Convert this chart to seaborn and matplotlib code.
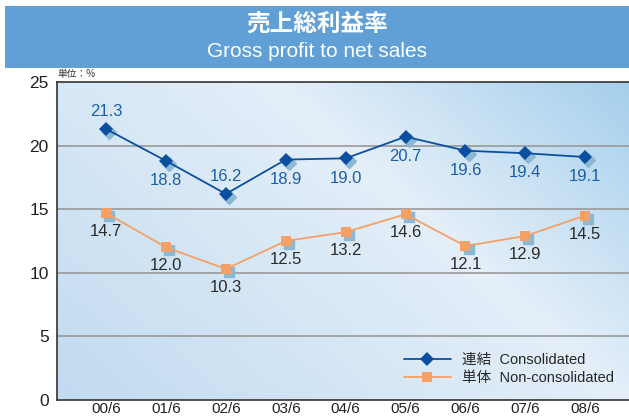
import numpy as np
import pandas as pd
import matplotlib
matplotlib.use("Agg")
import matplotlib.pyplot as plt
import matplotlib.transforms as mtransforms
from matplotlib.colors import LinearSegmentedColormap
import seaborn as sns

periods = ["00/6", "01/6", "02/6", "03/6", "04/6", "05/6", "06/6", "07/6", "08/6"]
consolidated = [21.3, 18.8, 16.2, 18.9, 19.0, 20.7, 19.6, 19.4, 19.1]
non_consolidated = [14.7, 12.0, 10.3, 12.5, 13.2, 14.6, 12.1, 12.9, 14.5]
cons_label_above = [True, False, True, False, False, False, False, False, False]
yticks = [0, 5, 10, 15, 20, 25]

sns.set_style("white")
plt.rcParams['font.family'] = ['Liberation Sans', 'Noto Sans CJK JP', 'DejaVu Sans']

fig = plt.figure(figsize=(6.29, 4.19), dpi=100)

# Title banner
W, H = 629.0, 419.0
bax = fig.add_axes([5 / W, 1 - 68 / H, 1 - 5 / W, 62 / H])
bax.set_facecolor("#60A0D6")
bax.set_xticks([]); bax.set_yticks([])
for s in bax.spines.values():
    s.set_visible(False)
bax.text(0.5, 0.72, "売上総利益率", color="white", fontsize=17, ha="center", va="center",
         transform=bax.transAxes, family=['Noto Sans CJK JP'], fontweight="bold")
bax.text(0.5, 0.27, "Gross profit to net sales", color="white", fontsize=15, ha="center",
         va="center", transform=bax.transAxes)

ax = fig.add_axes([57 / W, 19 / H, 572 / W, 318 / H])
df = pd.DataFrame({"period": np.arange(len(periods)), "cons": consolidated, "non": non_consolidated})

ax.set_xlim(-0.82, 8.73)
ax.set_ylim(0, 25)

# gradient background
nx, ny = 200, 100
xx, yy = np.meshgrid(np.linspace(0, 1, nx), np.linspace(0, 1, ny))
t = 0.62 * xx + 0.38 * yy
cmap = LinearSegmentedColormap.from_list("bg", [(0, "#C2DBF0"), (0.62, "#E4EFF9"), (1.0, "#A6CFEC")])
ax.imshow(t, cmap=cmap, extent=[-0.82, 8.73, 0, 25], origin="lower", aspect="auto", zorder=0, vmin=0, vmax=1)

for y in yticks[1:-1]:
    ax.axhline(y, color="#999999", lw=1.2, zorder=1)

shadow = mtransforms.offset_copy(ax.transData, fig=fig, x=2.2, y=-2.2, units="points")
ax.plot(df["period"], df["cons"], ls="none", marker="D", ms=7, color="#8DB8D2", transform=shadow, zorder=2)
ax.plot(df["period"], df["non"], ls="none", marker="s", ms=7, color="#8DB8D2", transform=shadow, zorder=2)

sns.lineplot(data=df, x="period", y="cons", ax=ax, color="#0B50A0", lw=1.3, marker="D",
             markersize=7, markeredgewidth=0, label="連結  Consolidated", zorder=3)
sns.lineplot(data=df, x="period", y="non", ax=ax, color="#F5A067", lw=1.3, marker="s",
             markersize=7, markeredgewidth=0, label="単体  Non-consolidated", zorder=3)

for i, v in enumerate(consolidated):
    dy = 1.4 if cons_label_above[i] else -1.55
    ax.text(i, v + dy, f"{v:.1f}", color="#1A5FA8", fontsize=12, ha="center", va="center", zorder=4)
for i, v in enumerate(non_consolidated):
    ax.text(i, v - 1.45, f"{v:.1f}", color="#2A2A2A", fontsize=12, ha="center", va="center", zorder=4)

ax.set_xticks(range(len(periods)))
ax.set_xticklabels(periods, fontsize=11, color="#222222")
ax.set_yticks(yticks)
ax.set_yticklabels([str(v) for v in yticks], fontsize=12.5, color="#222222")
ax.tick_params(axis="y", length=0, pad=6)
ax.tick_params(axis="x", length=0, pad=1.5)
ax.set_xlabel(""); ax.set_ylabel("")
for side in ["left", "bottom", "top"]:
    ax.spines[side].set_visible(True)
    ax.spines[side].set_color("#333333")
    ax.spines[side].set_linewidth(1.2)
ax.spines["right"].set_visible(False)

fig.text(57 / W, 1 - 74 / H, "単位：%", fontsize=7, color="#333333", va="center", ha="left",
         family=['Noto Sans CJK JP'])

leg = ax.legend(loc="lower right", bbox_to_anchor=(1.0, 0.0), frameon=False, fontsize=10.5,
                handlelength=3.2, labelspacing=0.3, borderaxespad=0.6)

fig.savefig("out.png", dpi=100)
